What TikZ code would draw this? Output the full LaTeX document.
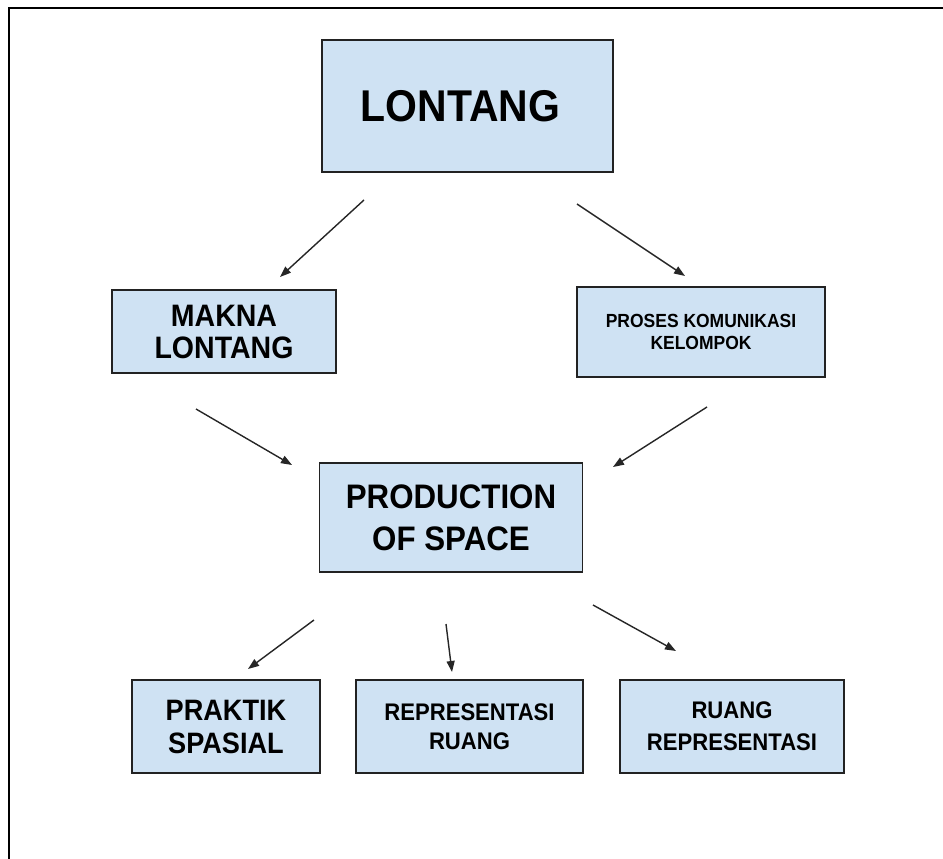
\documentclass[tikz,border=0pt]{standalone}
\usepackage{fontspec}
\setmainfont{Liberation Sans}[FakeStretch=0.92]
\usetikzlibrary{arrows.meta}
\definecolor{boxfill}{HTML}{CFE2F3}
\definecolor{edgecol}{HTML}{222222}
\begin{document}
\begin{tikzpicture}[x=1pt,y=-1pt,
  box/.style={draw=edgecol, line width=1.3pt, fill=boxfill, inner sep=0pt, align=center},
  fs/.style n args={2}{font=\bfseries\fontsize{#1}{#2}\selectfont},
  link/.style={draw=black!85, line width=1.4pt, -{Triangle[length=11pt,width=8pt]}}]
\useasboundingbox (0,0) rectangle (943,859);
\fill[white] (0,0) rectangle (943,859);
\draw[line width=1.5pt, black] (9,859) -- (9,8) -- (943,8);

\node[box, fs={44.5}{50}, minimum width=291pt, minimum height=132pt] (lontang) at (467.5,106)
  {LONTANG\hspace*{14pt}};
\node[box, fs={31}{32}, minimum width=224pt, minimum height=83pt] (makna) at (224,331.5)
  {MAKNA\\LONTANG};
\node[box, fs={19}{22}, minimum width=248pt, minimum height=90pt] (proses) at (701,332)
  {PROSES KOMUNIKASI\\KELOMPOK};
\node[box, fs={34}{42}, minimum width=263pt, minimum height=109pt] (prod) at (451,517.5)
  {PRODUCTION\\OF SPACE};
\node[box, fs={29.5}{33}, minimum width=188pt, minimum height=93pt] (praktik) at (226,726.5)
  {PRAKTIK\\SPASIAL};
\node[box, fs={24}{29}, minimum width=227pt, minimum height=93pt] (repr) at (469.5,726.5)
  {REPRESENTASI\\RUANG};
\node[box, fs={24}{32}, minimum width=224pt, minimum height=93pt] (ruang) at (732,726.5)
  {RUANG\\REPRESENTASI};

\coordinate (a1s) at (364,200); \coordinate (a1e) at (280,277);
\coordinate (a2s) at (577,204); \coordinate (a2e) at (685,276);
\coordinate (a3s) at (196,409); \coordinate (a3e) at (292,465);
\coordinate (a4s) at (707,407); \coordinate (a4e) at (613,467);
\coordinate (a5s) at (314,620); \coordinate (a5e) at (248,669);
\coordinate (a6s) at (446,624); \coordinate (a6e) at (452,672);
\coordinate (a7s) at (593,605); \coordinate (a7e) at (676,651);

\draw[link] (a1s) -- (a1e);
\draw[link] (a2s) -- (a2e);
\draw[link] (a3s) -- (a3e);
\draw[link] (a4s) -- (a4e);
\draw[link] (a5s) -- (a5e);
\draw[link] (a6s) -- (a6e);
\draw[link] (a7s) -- (a7e);
\end{tikzpicture}
\end{document}
